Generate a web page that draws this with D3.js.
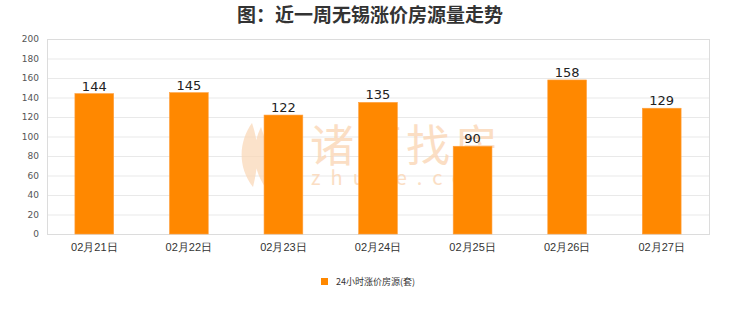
<!DOCTYPE html>
<html lang="zh">
<head>
  <meta charset="UTF-8">
  <title>近一周无锡涨价房源量走势</title>
  <script src="https://d3js.org/d3.v7.min.js"></script>
  <style>
    body { margin: 0; background: #fff; }
    svg { display: block; font-family: "Noto Sans CJK SC", "DejaVu Sans", sans-serif; }
  </style>
</head>
<body>
  <script>
    // data
    const dates = ["02月21日", "02月22日", "02月23日", "02月24日", "02月25日", "02月26日", "02月27日"];
    const counts = [144, 145, 122, 135, 90, 158, 129];
    const yTicks = [0, 20, 40, 60, 80, 100, 120, 140, 160, 180, 200];
    const seriesName = "24小时涨价房源(套)";
    const title = "图：近一周无锡涨价房源量走势";

    const width = 740, height = 312;
    const margin = { top: 39, right: 31, bottom: 78, left: 47 };
    const innerW = width - margin.left - margin.right;
    const innerH = height - margin.top - margin.bottom;
    const barColor = "#ff8800";

    const svg = d3.select("body").append("svg")
      .attr("width", width)
      .attr("height", height);

    svg.append("text")
      .attr("x", width / 2)
      .attr("y", 22)
      .attr("text-anchor", "middle")
      .attr("font-size", 19)
      .attr("font-weight", "bold")
      .attr("fill", "#333")
      .text(title);

    const x = d3.scaleBand().domain(dates).range([0, innerW]).paddingInner(0.59).paddingOuter(0.295);
    const y = d3.scaleLinear().domain([0, 200]).range([innerH, 0]);

    const g = svg.append("g").attr("transform", `translate(${margin.left},${margin.top})`);

    // grid
    g.append("g")
      .selectAll("line")
      .data(yTicks)
      .join("line")
      .attr("x1", 0).attr("x2", innerW)
      .attr("y1", d => y(d) + 0.5).attr("y2", d => y(d) + 0.5)
      .attr("stroke", "#e9e9e9");

    g.append("rect")
      .attr("x", 0.5).attr("y", 0.5)
      .attr("width", innerW).attr("height", innerH)
      .attr("fill", "none")
      .attr("stroke", "#dcdcdc");

    // watermark (behind the bars)
    const wm = g.append("g").attr("fill", "#fbd7b6").attr("opacity", 0.8);
    wm.append("text")
      .attr("x", 263).attr("y", 123)
      .attr("font-size", 44)
      .attr("letter-spacing", 4)
      .text("诸葛找房");
    wm.append("text")
      .attr("x", 264).attr("y", 146)
      .attr("font-size", 20)
      .attr("letter-spacing", 10)
      .text("zhuge.com");
    wm.append("path")
      .attr("d", "M205,84 C192,102 190,128 206,148 C212,124 212,104 205,84 Z M214,88 C204,108 206,130 218,148 C222,126 221,106 214,88 Z")
      .attr("opacity", 0.9);

    // y axis
    const yAxis = g.append("g")
      .call(d3.axisLeft(y).tickValues(yTicks).tickSize(0).tickPadding(8));
    yAxis.select(".domain").remove();
    yAxis.selectAll("text").attr("font-size", 9).attr("fill", "#555")
      .attr("font-family", "'DejaVu Sans', sans-serif");

    // x axis
    const xAxis = g.append("g")
      .attr("transform", `translate(0,${innerH})`)
      .call(d3.axisBottom(x).tickSize(0).tickPadding(9));
    xAxis.select(".domain").remove();
    xAxis.selectAll("text").attr("font-size", 11).attr("fill", "#333");

    // bars
    g.append("g")
      .selectAll("rect")
      .data(counts)
      .join("rect")
      .attr("x", (d, i) => x(dates[i]))
      .attr("y", d => y(d))
      .attr("width", x.bandwidth())
      .attr("height", d => innerH - y(d))
      .attr("fill", barColor)
      .attr("stroke", "#ffa040")
      .attr("stroke-width", 0.6);

    // value labels
    g.append("g")
      .selectAll("text")
      .data(counts)
      .join("text")
      .attr("x", (d, i) => x(dates[i]) + x.bandwidth() / 2)
      .attr("y", d => y(d) - 3)
      .attr("text-anchor", "middle")
      .attr("font-size", 13)
      .attr("fill", "#222")
      .attr("font-family", "'DejaVu Sans', sans-serif")
      .text(d => d);

    // legend
    const legend = svg.append("g").attr("transform", "translate(321,282)");
    legend.append("rect")
      .attr("x", 0).attr("y", -4)
      .attr("width", 7).attr("height", 7)
      .attr("fill", barColor);
    legend.append("text")
      .attr("x", 15).attr("y", 3)
      .attr("font-size", 9)
      .attr("fill", "#333")
      .text(seriesName);
  </script>
</body>
</html>
